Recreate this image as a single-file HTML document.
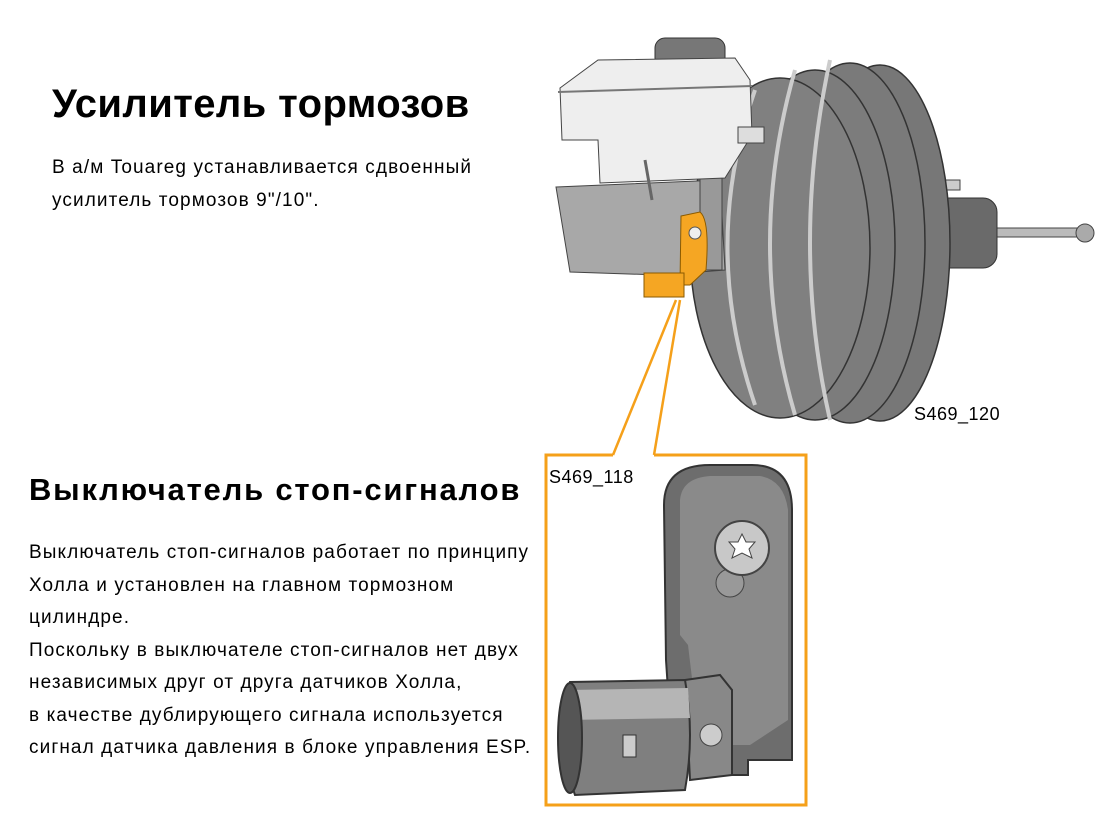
<!DOCTYPE html>
<html><head><meta charset="utf-8"><style>
html,body{margin:0;padding:0;background:#fff;}
body{width:1108px;height:825px;position:relative;overflow:hidden;font-family:"Liberation Sans","DejaVu Sans",sans-serif;color:#000;}
.t{position:absolute;white-space:nowrap;}
h1{position:absolute;margin:0;left:52px;top:82px;font-size:40px;font-weight:bold;letter-spacing:0.4px;white-space:nowrap;}
h2{position:absolute;margin:0;left:29px;top:472px;font-size:31px;font-weight:bold;letter-spacing:1.8px;white-space:nowrap;}
.p{position:absolute;font-size:19px;line-height:32.5px;letter-spacing:1.1px;white-space:nowrap;}
</style></head><body>
<h1>Усилитель тормозов</h1>
<div class="p" style="left:52px;top:152px;">В а/м Touareg устанавливается сдвоенный<br>усилитель тормозов 9"/10".</div>
<h2>Выключатель стоп-сигналов</h2>
<div class="p" style="left:29px;top:537px;">Выключатель стоп-сигналов работает по принципу<br>Холла и установлен на главном тормозном<br>цилиндре.<br>Поскольку в выключателе стоп-сигналов нет двух<br>независимых друг от друга датчиков Холла,<br>в качестве дублирующего сигнала используется<br>сигнал датчика давления в блоке управления ESP.</div>

<svg width="1108" height="825" style="position:absolute;left:0;top:0" xmlns="http://www.w3.org/2000/svg">
 <rect x="990" y="228" width="100" height="9" fill="#bbb" stroke="#444"/>
 <circle cx="1085" cy="233" r="9" fill="#aaa" stroke="#444"/>
 <rect x="935" y="198" width="62" height="70" rx="14" fill="#6a6a6a" stroke="#333"/>
 <rect x="940" y="180" width="20" height="10" fill="#ccc" stroke="#444"/>
 <ellipse cx="880" cy="243" rx="70" ry="178" fill="#777" stroke="#333" stroke-width="1.5"/>
 <ellipse cx="850" cy="243" rx="75" ry="180" fill="#7a7a7a" stroke="#333" stroke-width="1.5"/>
 <ellipse cx="815" cy="245" rx="80" ry="175" fill="#7c7c7c" stroke="#333" stroke-width="1.5"/>
 <ellipse cx="780" cy="248" rx="90" ry="170" fill="#808080" stroke="#333" stroke-width="1.5"/>
 <path d="M755 90 Q700 245 755 405" stroke="#ccc" stroke-width="4" fill="none"/>
 <path d="M795 70 Q745 245 795 415" stroke="#ccc" stroke-width="4" fill="none"/>
 <path d="M830 60 Q790 245 830 420" stroke="#ccc" stroke-width="4" fill="none"/>
 <path d="M556 187 L720 180 L725 270 L660 275 L570 272 Z" fill="#a8a8a8" stroke="#444"/>
 <rect x="700" y="170" width="22" height="100" fill="#999" stroke="#444"/>
 <rect x="655" y="38" width="70" height="30" rx="10" fill="#777" stroke="#333"/>
 <path d="M560 88 L598 60 L735 58 L750 80 L752 135 L725 178 L600 183 L598 140 L562 140 Z" fill="#eee" stroke="#444"/>
 <line x1="558" y1="92" x2="752" y2="86" stroke="#777" stroke-width="2"/>
 <path d="M645 160 L652 200" stroke="#666" stroke-width="3"/>
 <rect x="738" y="127" width="26" height="16" fill="#ddd" stroke="#444"/>
 <path d="M681 216 L700 212 Q710 220 706 270 L690 285 L680 285 Z" fill="#f5a623" stroke="#8a5a00"/>
 <rect x="644" y="273" width="40" height="24" fill="#f5a623" stroke="#8a5a00"/>
 <circle cx="695" cy="233" r="6" fill="#eee" stroke="#555"/>
 <line x1="676" y1="300" x2="613" y2="455" stroke="#f5a01a" stroke-width="2.5"/>
 <line x1="680" y1="300" x2="654" y2="455" stroke="#f5a01a" stroke-width="2.5"/>
 <path d="M613 455 L546 455 L546 805 L806 805 L806 455 L654 455" fill="none" stroke="#f5a01a" stroke-width="3"/>
 <path d="M664 505 Q664 465 710 465 L752 465 Q792 465 792 510 L792 760 L748 760 L748 775 L708 775 Q698 775 698 765 L698 690 L668 690 L666 660 Z" fill="#6d6d6d" stroke="#333" stroke-width="2"/>
 <path d="M680 500 Q682 478 710 476 L760 476 Q784 480 788 510 L788 720 L750 745 L700 745 L688 645 L680 635 Z" fill="#8a8a8a"/>
 <circle cx="730" cy="583" r="14" fill="#999" stroke="#444"/>
 <circle cx="742" cy="548" r="27" fill="#c8c8c8" stroke="#444" stroke-width="2"/>
 <polygon points="742,534 746,542 755,542 749,549 752,558 742,553 732,558 735,549 729,542 738,542" fill="#fff" stroke="#444"/>
 <path d="M685 680 L720 675 L732 690 L732 775 L690 780 Z" fill="#888" stroke="#333" stroke-width="2"/>
 <circle cx="711" cy="735" r="11" fill="#ccc" stroke="#444"/>
 <path d="M570 682 L685 680 Q695 735 685 790 L575 795 Q555 740 570 682 Z" fill="#7f7f7f" stroke="#333" stroke-width="2"/>
 <path d="M568 690 L688 688 L690 718 L565 720 Z" fill="#b5b5b5"/>
 <ellipse cx="570" cy="738" rx="12" ry="55" fill="#555" stroke="#333" stroke-width="2"/>
 <rect x="623" y="735" width="13" height="22" fill="#ccc" stroke="#333"/>
</svg>
<div class="t" style="left:914px;top:404px;font-size:18px;letter-spacing:0.5px;">S469_120</div>
<div class="t" style="left:549px;top:467px;font-size:18px;letter-spacing:0.5px;">S469_118</div>
</body></html>
